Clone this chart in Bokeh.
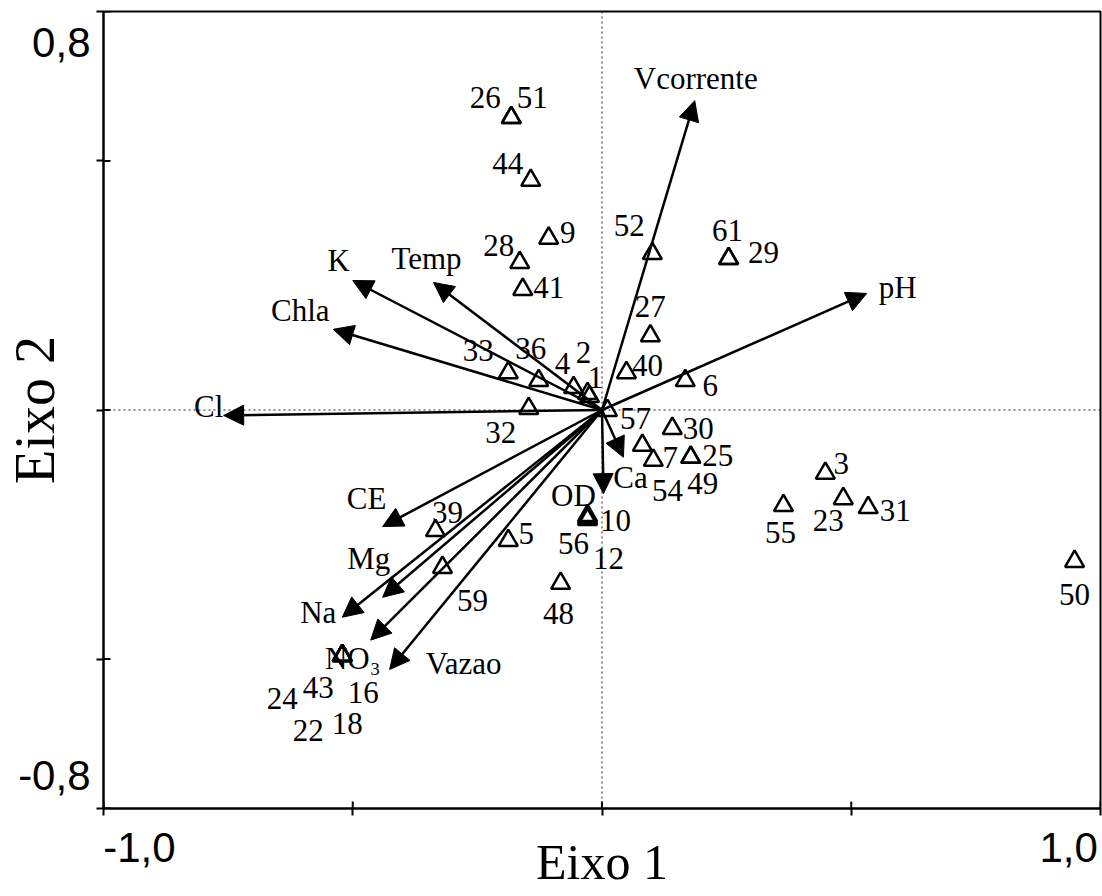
from math import pi
from bokeh.plotting import figure
from bokeh.models import (ColumnDataSource, Arrow, NormalHead, Span,
                          FixedTicker)
from bokeh.embed import file_html
from bokeh.resources import INLINE

# ---- data: site scores (Eixo 1, Eixo 2) ----
site_ids = ["26", "51", "44", "9", "28", "41", "52", "61", "29", "33", "36", "4",
            "2", "1", "32", "57", "27", "40", "6", "30", "7", "54", "25", "49",
            "3", "23", "31", "55", "50", "10", "56", "12", "5", "48", "39", "59",
            "24", "43", "16", "22", "18"]
site_x = [-0.182, -0.182, -0.143, -0.107, -0.165, -0.159, 0.101, 0.254, 0.254,
          -0.188, -0.127, -0.057, -0.029, -0.025, -0.147, 0.011, 0.097, 0.049,
          0.167, 0.141, 0.103, 0.081, 0.178, 0.178, 0.448, 0.484, 0.534, 0.364,
          0.948, -0.029, -0.029, -0.029, -0.188, -0.083, -0.334, -0.320,
          -0.521, -0.521, -0.521, -0.521, -0.521]
site_y = [0.587, 0.587, 0.461, 0.345, 0.296, 0.242, 0.314, 0.304, 0.304,
          0.075, 0.059, 0.045, 0.033, 0.027, 0.003, -0.001, 0.149, 0.075,
          0.059, -0.037, -0.101, -0.071, -0.095, -0.095, -0.127, -0.178, -0.196,
          -0.192, -0.304, -0.212, -0.220, -0.216, -0.262, -0.348, -0.242,
          -0.316, -0.493, -0.493, -0.493, -0.493, -0.493]

# ---- data: environmental variable vectors ----
var_names = ["Vcorrente", "pH", "K", "Temp", "Chla", "Cl", "CE", "Mg", "Na",
             "NO₃", "Vazao", "Ca", "OD"]
var_x = [0.186, 0.531, -0.500, -0.338, -0.539, -0.759, -0.440, -0.440, -0.521,
         -0.464, -0.426, 0.043, 0.003]
var_y = [0.621, 0.234, 0.260, 0.256, 0.162, -0.011, -0.234, -0.376, -0.416,
         -0.462, -0.521, -0.095, -0.168]

# ---- axes: tick marks and tick labels ----
x_ticks = [-1.0, -0.5, 0.0, 0.5, 1.0]
y_ticks = [-0.8, -0.5, 0.0, 0.5, 0.8]
x_tick_labels = ["-1,0", "1,0"]
y_tick_labels = ["-0,8", "0,8"]
# where the tick labels sit (layout: pulled inward from the range ends)
x_label_pos = [-0.928, 0.936]
y_label_pos = [-0.733, 0.737]

# ---- label placement (screen pixel offsets, layout only) ----
site_dx = [-26, 21, -23, 19, -21, 26, -23, -1, 35, -30, -8, -11, -4, 6, -28, 28,
           0, 21, 25, 26, 17, 25, 27, 12, 16, -15, 27, -3, 0, 28, -14, 21, 18,
           -2, 12, 30, -60, -24, 21, -34, 5]
site_dy = [-20, -20, -17, -6, -17, -2, -28, -28, -6, -22, -32, -24, -41, -19, 24,
           8, -29, -7, 5, 0, -3, 45, -2, 26, -10, 22, 3, 27, 33, 5, 24, 41, -7,
           30, -18, 33, 43, 32, 37, 75, 68]
var_dx = [1, 31, -14, -7, -33, -15, -16, -14, -24, -18, 74, 7, -30]
var_dy = [-22, -6, -20, -24, -19, -9, -28, -39, -5, 18, -6, 20, 2]

SERIF = "Liberation Serif"
SANS = "Liberation Sans"

p = figure(width=1102, height=896, x_range=(-1.0, 1.0), y_range=(-0.8, 0.8),
           output_backend="svg", toolbar_location=None,
           min_border_left=103, min_border_right=2, min_border_top=11,
           min_border_bottom=88)
p.grid.visible = False
p.outline_line_color = "black"
p.outline_line_width = 2
p.background_fill_color = "white"
p.border_fill_color = "white"

xa, ya = p.xaxis[0], p.yaxis[0]
xa.ticker = FixedTicker(ticks=x_label_pos, minor_ticks=x_ticks)
ya.ticker = FixedTicker(ticks=y_label_pos, minor_ticks=y_ticks)
xa.major_label_overrides = dict(zip(x_label_pos, x_tick_labels))
ya.major_label_overrides = dict(zip(y_label_pos, y_tick_labels))

for ax in (xa, ya):
    ax.major_tick_line_color = None
    ax.major_tick_in = 0
    ax.major_tick_out = 0
    ax.minor_tick_line_color = "black"
    ax.minor_tick_line_width = 2
    ax.minor_tick_in = 0
    ax.minor_tick_out = 7
    ax.axis_line_width = 2
    ax.axis_line_color = "black"
    ax.major_label_text_font = SANS
    ax.major_label_text_font_size = "42px"
    ax.major_label_text_color = "black"
    ax.axis_label_text_font = SERIF
    ax.axis_label_text_font_style = "normal"
    ax.axis_label_text_color = "black"

xa.major_label_standoff = 17
xa.axis_label = "Eixo 1"
xa.axis_label_text_font_size = "50px"
xa.axis_label_standoff = -31

ya.major_label_standoff = 6
ya.major_label_orientation = "horizontal"
ya.axis_label = "Eixo 2"
ya.axis_label_text_font_size = "56px"
ya.axis_label_standoff = -51

# inner halves of the tick marks (the axis draws the outer halves)
in_y = ColumnDataSource(dict(x=[-1.0] * len(y_ticks), y=y_ticks))
in_x = ColumnDataSource(dict(x=x_ticks, y=[-0.8] * len(x_ticks)))
p.scatter("x", "y", source=in_y, marker="dash", size=14, line_width=2,
          line_color="black")
p.scatter("x", "y", source=in_x, marker="dash", size=14, angle=pi / 2,
          line_width=2, line_color="black")

# dotted zero lines
p.add_layout(Span(location=0, dimension="width", line_color="#222222",
                  line_width=1, line_dash="2 3"))
p.add_layout(Span(location=0, dimension="height", line_color="#222222",
                  line_width=1, line_dash="2 3"))

# sites
sites = ColumnDataSource(dict(x=site_x, y=site_y, label=site_ids,
                              dx=site_dx, dy=site_dy))
p.scatter("x", "y", source=sites, marker="triangle", size=19,
          fill_alpha=0, line_color="black", line_width=2.5)
p.text("x", "y", text="label", source=sites, x_offset="dx", y_offset="dy",
       text_font=SERIF, text_font_size="31px", text_align="center",
       text_baseline="middle", text_color="black")

# vectors
vecs = ColumnDataSource(dict(x0=[0.0] * len(var_x), y0=[0.0] * len(var_y),
                             x=var_x, y=var_y, label=var_names,
                             dx=var_dx, dy=var_dy))
p.add_layout(Arrow(end=NormalHead(size=20, fill_color="black",
                                  line_color="black", line_width=1),
                   x_start="x0", y_start="y0", x_end="x", y_end="y",
                   source=vecs, line_color="black", line_width=2.5))
p.text("x", "y", text="label", source=vecs, x_offset="dx", y_offset="dy",
       text_font=SERIF, text_font_size="31px", text_align="center",
       text_baseline="middle", text_color="black")

open("out.html", "w").write(file_html(p, INLINE))
